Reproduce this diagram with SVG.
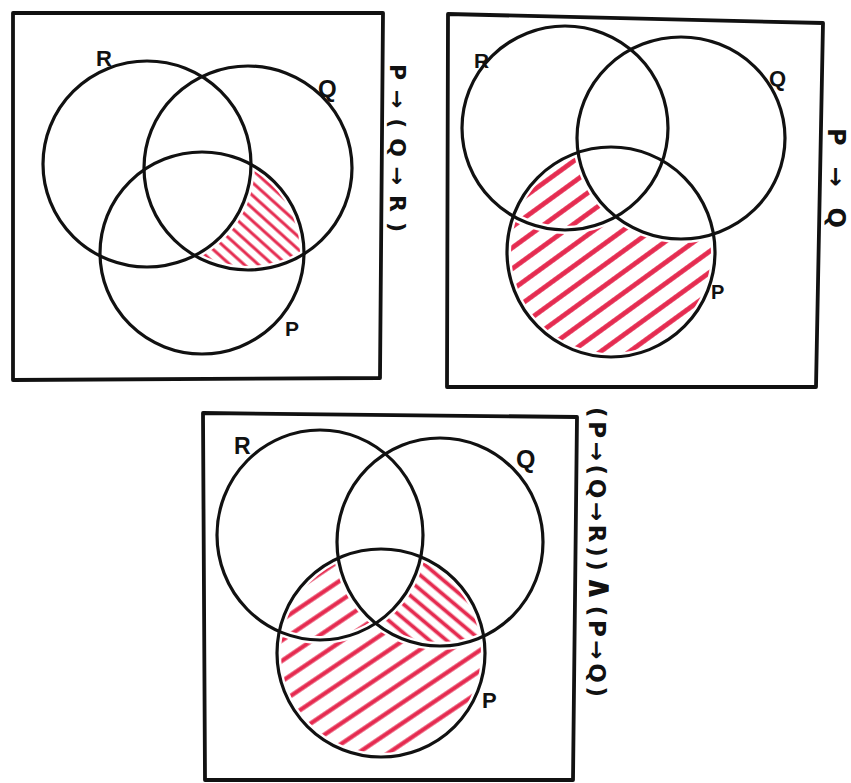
<svg xmlns="http://www.w3.org/2000/svg" width="851" height="783" viewBox="0 0 851 783">
<style>
.c{fill:none;stroke:#111;stroke-width:3.2}
.f{fill:none;stroke:#111;stroke-width:3.8;stroke-linejoin:round}
.lb{font-family:"Liberation Sans",Arial,sans-serif;font-weight:bold;fill:#111}
.rl{font-family:"DejaVu Sans","Liberation Sans",sans-serif;font-weight:bold;fill:#111}
.mk{fill:none;stroke:#000;stroke-width:8}
.hl{stroke:#e52b50;stroke-linecap:round}
</style>
<defs>
<pattern id="h1" patternUnits="userSpaceOnUse" width="9.5" height="20" patternTransform="rotate(-48)"><line class="hl" x1="4.75" y1="-2" x2="4.75" y2="22" stroke-width="3"/></pattern>
<pattern id="h2" patternUnits="userSpaceOnUse" width="17" height="20" patternTransform="rotate(54)"><line class="hl" x1="8.5" y1="-2" x2="8.5" y2="22" stroke-width="4.8"/></pattern>
<pattern id="h3a" patternUnits="userSpaceOnUse" width="17" height="20" patternTransform="rotate(56)"><line class="hl" x1="8.5" y1="-2" x2="8.5" y2="22" stroke-width="4.3"/></pattern>
<pattern id="h3b" patternUnits="userSpaceOnUse" width="11" height="20" patternTransform="rotate(-50)"><line class="hl" x1="5.5" y1="-2" x2="5.5" y2="22" stroke-width="3.8"/></pattern>
<clipPath id="cQ1"><ellipse cx="248" cy="168" rx="104" ry="102"/></clipPath>
<clipPath id="cQ3"><ellipse cx="440" cy="542" rx="103" ry="104"/></clipPath>
<mask id="m1" maskUnits="userSpaceOnUse" x="0" y="0" width="851" height="783">
<rect x="0" y="0" width="851" height="783" fill="#000"/>
<g clip-path="url(#cQ1)"><ellipse cx="202" cy="253" rx="102" ry="101" fill="#fff"/></g>
<ellipse cx="147" cy="164" rx="104" ry="103" fill="#000"/>
<ellipse class="mk" cx="147" cy="164" rx="104" ry="103"/>
<ellipse class="mk" cx="248" cy="168" rx="104" ry="102"/>
<ellipse class="mk" cx="202" cy="253" rx="102" ry="101"/>
</mask>
<mask id="m2" maskUnits="userSpaceOnUse" x="0" y="0" width="851" height="783">
<rect x="0" y="0" width="851" height="783" fill="#000"/>
<ellipse cx="611" cy="252" rx="104" ry="105" fill="#fff"/>
<ellipse cx="681" cy="138" rx="104" ry="101" fill="#000"/>
<ellipse class="mk" cx="565" cy="128" rx="103" ry="102"/>
<ellipse class="mk" cx="681" cy="138" rx="104" ry="101"/>
<ellipse class="mk" cx="611" cy="252" rx="104" ry="105"/>
</mask>
<mask id="m3a" maskUnits="userSpaceOnUse" x="0" y="0" width="851" height="783">
<rect x="0" y="0" width="851" height="783" fill="#000"/>
<ellipse cx="381" cy="653" rx="104" ry="104" fill="#fff"/>
<ellipse cx="440" cy="542" rx="103" ry="104" fill="#000"/>
<ellipse class="mk" cx="320" cy="535" rx="103" ry="105"/>
<ellipse class="mk" cx="440" cy="542" rx="103" ry="104"/>
<ellipse class="mk" cx="381" cy="653" rx="104" ry="104"/>
</mask>
<mask id="m3b" maskUnits="userSpaceOnUse" x="0" y="0" width="851" height="783">
<rect x="0" y="0" width="851" height="783" fill="#000"/>
<g clip-path="url(#cQ3)"><ellipse cx="381" cy="653" rx="104" ry="104" fill="#fff"/></g>
<ellipse cx="320" cy="535" rx="103" ry="105" fill="#000"/>
<ellipse class="mk" cx="320" cy="535" rx="103" ry="105"/>
<ellipse class="mk" cx="440" cy="542" rx="103" ry="104"/>
<ellipse class="mk" cx="381" cy="653" rx="104" ry="104"/>
</mask>
</defs>
<rect x="0" y="0" width="851" height="783" fill="#fff"/>

<g id="panel1">
<rect x="0" y="0" width="851" height="783" fill="url(#h1)" mask="url(#m1)"/>
<polygon class="f" points="13,13 383,13 380,378 13,380"/>
<ellipse class="c" cx="147" cy="164" rx="104" ry="103"/>
<ellipse class="c" cx="248" cy="168" rx="104" ry="102"/>
<ellipse class="c" cx="202" cy="253" rx="102" ry="101"/>
<text class="lb" x="96" y="66" font-size="22">R</text>
<text class="lb" x="318" y="97" font-size="24">Q</text>
<text class="lb" x="285" y="336" font-size="21">P</text>
<text class="rl" transform="translate(390,64) rotate(90)" font-size="22" textLength="168" lengthAdjust="spacing">P→(Q→R)</text>
</g>

<g id="panel2">
<rect x="0" y="0" width="851" height="783" fill="url(#h2)" mask="url(#m2)"/>
<polygon class="f" points="448,14 823,23 816,387 447,387"/>
<ellipse class="c" cx="565" cy="128" rx="103" ry="102"/>
<ellipse class="c" cx="681" cy="138" rx="104" ry="101"/>
<ellipse class="c" cx="611" cy="252" rx="104" ry="105"/>
<text class="lb" x="474" y="68" font-size="21">R</text>
<text class="lb" x="769" y="86" font-size="22">Q</text>
<text class="lb" x="711" y="299" font-size="20">P</text>
<text class="rl" transform="translate(828,128) rotate(90)" font-size="24" textLength="100" lengthAdjust="spacing">P→Q</text>
</g>

<g id="panel3">
<rect x="0" y="0" width="851" height="783" fill="url(#h3a)" mask="url(#m3a)"/>
<rect x="0" y="0" width="851" height="783" fill="url(#h3b)" mask="url(#m3b)"/>
<polygon class="f" points="203,413 577,417 573,780 205,780"/>
<ellipse class="c" cx="320" cy="535" rx="103" ry="105"/>
<ellipse class="c" cx="440" cy="542" rx="103" ry="104"/>
<ellipse class="c" cx="381" cy="653" rx="104" ry="104"/>
<text class="lb" x="234" y="454" font-size="23">R</text>
<text class="lb" x="516" y="468" font-size="25">Q</text>
<text class="lb" x="482" y="708" font-size="22">P</text>
<text class="rl" transform="translate(589,407) rotate(90)" font-size="23" textLength="290" lengthAdjust="spacing">(P→(Q→R))<tspan font-size="34">∧</tspan>(P→Q)</text>
</g>
</svg>
